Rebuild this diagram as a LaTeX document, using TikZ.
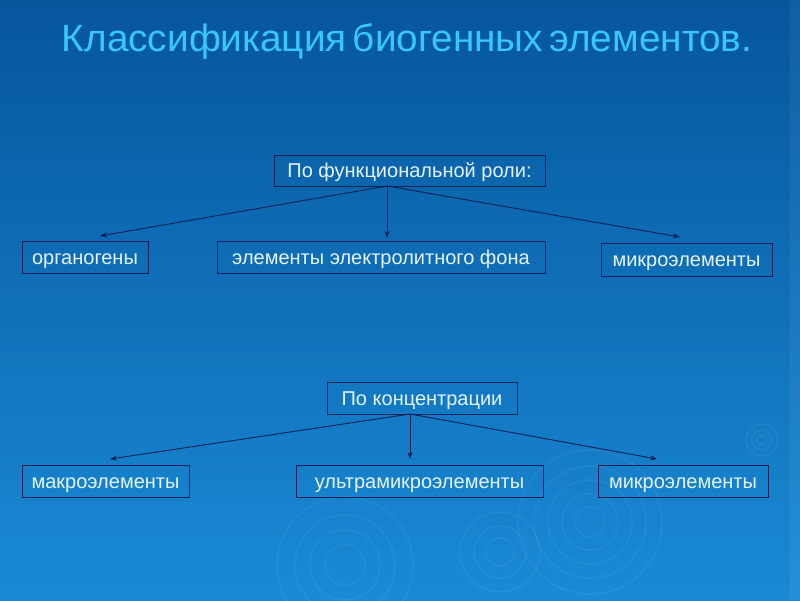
\documentclass[tikz,border=0pt]{standalone}
\usepackage{fontspec}
\setmainfont{Liberation Sans}
\newfontfamily\titlefont[FakeStretch=1.02]{Liberation Sans}
\usetikzlibrary{positioning, arrows.meta, shapes}
\definecolor{bgtop}{RGB}{6,86,156}
\definecolor{bgbot}{RGB}{26,138,214}
\definecolor{navy}{RGB}{16,32,84}
\definecolor{boxtext}{RGB}{228,244,255}
\definecolor{titlecyan}{RGB}{56,198,255}

\begin{document}
\begin{tikzpicture}[x=1pt, y=-1pt,
    box/.style={draw=navy, line width=0.9pt, text=boxtext, inner sep=0pt,
                text height=17pt, text depth=3pt,
                font=\fontsize{20}{22}\selectfont},
    link/.style={draw=navy, line width=0.9pt, -{Stealth[length=7pt,width=5pt]}},
    ripple/.style={draw=white, opacity=0.05, line width=1.6pt}]
    \useasboundingbox (0,0) rectangle (800,600);
    % Background
    \begin{scope}
    \clip (0,0) rectangle (800,600);
    \shade[top color=bgtop, bottom color=bgbot] (0,0) rectangle (800,600);
    \fill[white, opacity=0.05] (790,0) rectangle (800,600);
    \foreach \r in {20,35,50,68} \draw[ripple] (345,565) circle (\r);
    \foreach \r in {14,26,40} \draw[ripple] (500,552) circle (\r);
    \foreach \r in {15,28,42,56,72} \draw[ripple] (590,522) circle (\r);
    \foreach \r in {5,10,16} \draw[ripple] (762,440) circle (\r);
    \end{scope}

    % Title
    \node[text=titlecyan, font=\titlefont\fontsize{38}{42}\selectfont] (title) at (407,42)
        {\spaceskip=0.16em\relax Классификация биогенных элементов.};

    % By function
    \node[box, minimum width=271pt, minimum height=31pt] (func) at (409.5,170.5) {По функциональной роли:};
    \node[box, minimum width=126pt, minimum height=32pt] (organ) at (85,257) {органогены};
    \node[box, minimum width=328pt, minimum height=32pt] (fon) at (381,257) {элементы электролитного фона};
    \node[box, minimum width=171pt, minimum height=33pt] (micro) at (686.5,259.5) {микроэлементы};

    % By concentration
    \node[box, minimum width=190pt, minimum height=32pt] (conc) at (422,398) {По концентрации};
    \node[box, minimum width=167pt, minimum height=32pt] (macro) at (105.5,481) {макроэлементы};
    \node[box, minimum width=247pt, minimum height=32pt] (ultra) at (419.5,481) {ультрамикроэлементы};
    \node[box, minimum width=170pt, minimum height=32pt] (microb) at (683,481) {микроэлементы};

    % Arrows
    \coordinate (funcsrc) at (387,186);
    \coordinate (organtip) at (100,236);
    \coordinate (fontip) at (387,238);
    \coordinate (microtip) at (680,237);
    \draw[link] (funcsrc) -- (organtip);
    \draw[link] (funcsrc) -- (fontip);
    \draw[link] (funcsrc) -- (microtip);

    \coordinate (concsrc) at (410,414);
    \coordinate (macrotip) at (110,459);
    \coordinate (ultratip) at (410,459);
    \coordinate (microbtip) at (657,459);
    \draw[link] (concsrc) -- (macrotip);
    \draw[link] (concsrc) -- (ultratip);
    \draw[link] (concsrc) -- (microbtip);
\end{tikzpicture}
\end{document}
